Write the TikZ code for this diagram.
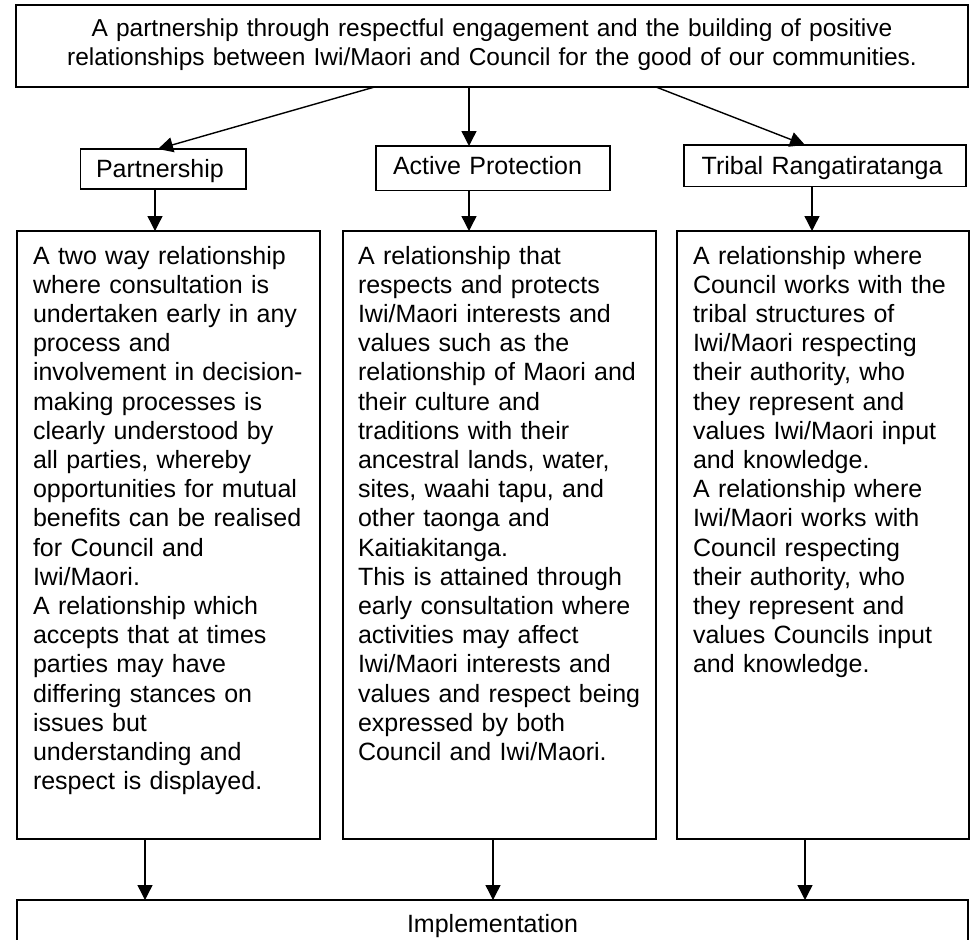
\documentclass[tikz,border=0pt]{standalone}
\usepackage{fontspec}
\setmainfont{Liberation Sans}
\usetikzlibrary{arrows.meta,calc}
\newcommand{\boxfont}{\fontsize{25}{29.2}\selectfont}
\newcommand{\goalfont}{\fontsize{24.5}{28.5}\selectfont}
\tikzset{
  flow/.style={-{Triangle[length=15pt, width=15pt]}, line width=1.4pt},
  goalbox/.style={draw, line width=1.5pt, anchor=north west, outer sep=0pt, inner ysep=0pt,
    inner xsep=16pt, text width=920pt, align=center, font=\goalfont},
  headbox/.style={draw, line width=1.5pt, anchor=north west, outer sep=0pt, inner ysep=0pt,
    align=left, font=\boxfont},
  textbox/.style={draw, line width=1.5pt, anchor=north west, outer sep=0pt, inner ysep=0pt,
    align=left, font=\boxfont, text height=33pt, text depth=575pt},
  implbox/.style={draw, line width=1.5pt, anchor=north, outer sep=0pt, inner ysep=0pt,
    minimum width=951pt, font=\boxfont, text height=32pt, text depth=15pt},
}

\begin{document}
\begin{tikzpicture}[x=1pt, y=-1pt]
\useasboundingbox[fill=white] (0,0) rectangle (971,939);
% --- Goal ---
\node[goalbox, text height=32pt, text depth=50pt] (goal) at (16,5)
  {A partnership through respectful engagement and the building of positive\\
   relationships between Iwi/Maori and Council for the good of our communities.};
% --- Three principles ---
\node[headbox, inner xsep=15.3pt, text width=134.7pt, text height=28pt, text depth=12pt]
  (partH) at (80.7,149) {Partnership};
\node[headbox, inner xsep=17pt, text width=200pt, text height=28pt, text depth=16.7pt]
  (protH) at (376,146) {Active Protection};
\node[headbox, inner xsep=17.7pt, text width=246.6pt, text height=29pt, text depth=12.7pt]
  (tribH) at (684,145) {Tribal Rangatiratanga};
\draw[flow] ($(goal.south west)+(358.6,0)$) -- ($(partH.north west)+(77.3,0)$);
\draw[flow] ($(goal.south west)+(453,0)$) -- ($(protH.north west)+(93,0)$);
\draw[flow] ($(goal.south west)+(640,0)$) -- ($(tribH.north west)+(121,0)$);
% --- Descriptions ---
\node[textbox, inner xsep=16pt, text width=271pt] (partT) at (17,231)
  {A two way relationship\\ where consultation is\\ undertaken early in any\\
   process and\\ involvement in decision-\\ making processes is\\
   clearly understood by\\ all parties, whereby\\ opportunities for mutual\\
   benefits can be realised\\ for Council and\\ Iwi/Maori.\\
   A relationship which\\ accepts that at times\\ parties may have\\
   differing stances on\\ issues but\\ understanding and\\ respect is displayed.};
\node[textbox, inner xsep=15pt, text width=283pt] (protT) at (343,231)
  {A relationship that\\ respects and protects\\ Iwi/Maori interests and\\
   values such as the\\ relationship of Maori and\\ their culture and\\
   traditions with their\\ ancestral lands, water,\\ sites, waahi tapu, and\\
   other taonga and\\ Kaitiakitanga.\\ This is attained through\\
   early consultation where\\ activities may affect\\ Iwi/Maori interests and\\
   values and respect being\\ expressed by both\\ Council and Iwi/Maori.};
\node[textbox, inner xsep=16pt, text width=260pt] (tribT) at (677,231)
  {A relationship where\\ Council works with the\\ tribal structures of\\
   Iwi/Maori respecting\\ their authority, who\\ they represent and\\
   values Iwi/Maori input\\ and knowledge.\\ A relationship where\\
   Iwi/Maori works with\\ Council respecting\\ their authority, who\\
   they represent and\\ values Councils input\\ and knowledge.};
\draw[flow] ($(partH.south west)+(74.3,0)$) -- ($(partT.north west)+(138,0)$);
\draw[flow] ($(protH.south west)+(93,0)$) -- ($(protT.north west)+(126,0)$);
\draw[flow] ($(tribH.south west)+(128,0)$) -- ($(tribT.north west)+(135,0)$);
% --- Implementation ---
\node[implbox] (impl) at (492.5,900) {Implementation};
\draw[flow] ($(partT.south west)+(128,0)$) -- ($(impl.north west)+(128,0)$);
\draw[flow] ($(protT.south west)+(150,0)$) -- ($(impl.north west)+(476,0)$);
\draw[flow] ($(tribT.south west)+(128,0)$) -- ($(impl.north west)+(788,0)$);
\end{tikzpicture}
\end{document}
